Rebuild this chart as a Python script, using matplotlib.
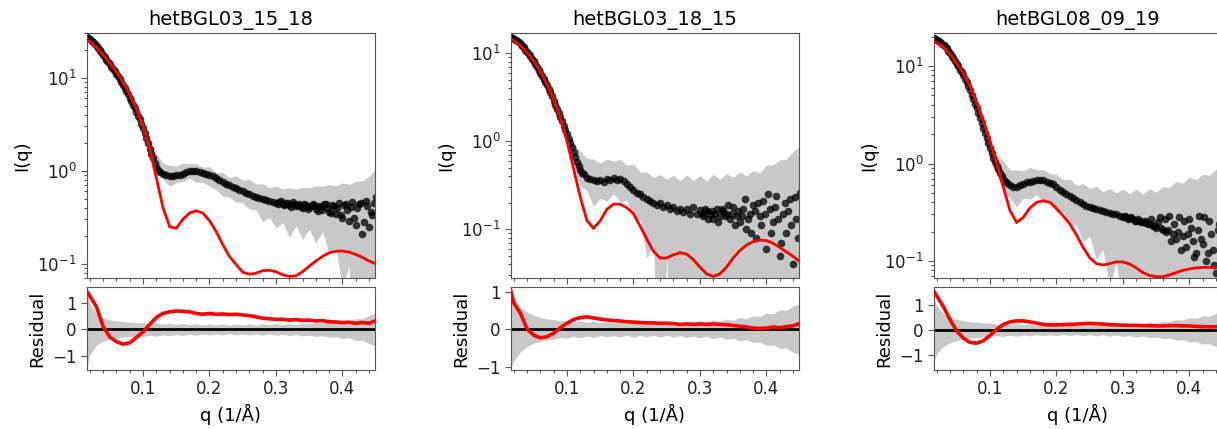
import numpy as np
import matplotlib.pyplot as plt
from matplotlib.ticker import MultipleLocator, AutoMinorLocator, NullFormatter

# Sample names (one column per sample)
titles = ["hetBGL03_15_18", "hetBGL03_18_15", "hetBGL08_09_19"]

# Measured q (1/A): main grid plus the extra points in between
q_exp = [0.015, 0.020, 0.025, 0.030, 0.035, 0.040, 0.045, 0.050, 0.055, 0.060,
         0.065, 0.070, 0.075, 0.080, 0.085, 0.090, 0.095, 0.100, 0.105, 0.110,
         0.115, 0.120, 0.125, 0.130, 0.135, 0.140, 0.145, 0.150, 0.155, 0.160,
         0.165, 0.170, 0.175, 0.180, 0.185, 0.190, 0.195, 0.200, 0.205, 0.210,
         0.215, 0.220, 0.225, 0.230, 0.235, 0.240, 0.245, 0.250, 0.255, 0.260,
         0.265, 0.270, 0.275, 0.280, 0.285, 0.290, 0.295, 0.300, 0.305, 0.310,
         0.315, 0.320, 0.325, 0.330, 0.335, 0.340, 0.345, 0.350, 0.355, 0.360,
         0.365, 0.370, 0.375, 0.380, 0.385, 0.390, 0.395, 0.400, 0.405, 0.410,
         0.415, 0.420, 0.425, 0.430, 0.435, 0.440, 0.445, 0.450]
q_exp_b = [0.0175, 0.0225, 0.0275, 0.0325, 0.0375, 0.0425, 0.0475, 0.0525, 0.0575, 0.0625,
           0.0675, 0.0725, 0.0775, 0.0825, 0.0875, 0.0925, 0.0975, 0.1025, 0.1075, 0.1125,
           0.1175, 0.1225,
           0.3025, 0.3075, 0.3125, 0.3175, 0.3225, 0.3275, 0.3325, 0.3375, 0.3425, 0.3475,
           0.3525, 0.3575, 0.3625, 0.3675, 0.3725, 0.3775, 0.3825, 0.3875, 0.3925, 0.3975,
           0.4025, 0.4075, 0.4125, 0.4175, 0.4225, 0.4275, 0.4325, 0.4375, 0.4425, 0.4475]
# q grid of the fitted curve
q_fit = [0.015, 0.02, 0.03, 0.04, 0.05, 0.06, 0.07, 0.08, 0.09, 0.10,
         0.11, 0.12, 0.13, 0.14, 0.15, 0.16, 0.17, 0.18, 0.19, 0.20,
         0.21, 0.22, 0.23, 0.24, 0.25, 0.26, 0.27, 0.28, 0.29, 0.30,
         0.31, 0.32, 0.33, 0.34, 0.35, 0.36, 0.37, 0.38, 0.39, 0.40,
         0.41, 0.42, 0.43, 0.44, 0.45]

# Measured intensities
iexp_1 = [27.5, 25.8, 23.9, 21.9, 19.7, 17.5, 15.6, 13.9, 12.4, 11.0,
          9.7, 8.35, 7.15, 6.1, 5.13, 4.3, 3.55, 2.85, 2.25, 1.72,
          1.35, 1.10, 0.97, 0.92, 0.89, 0.88, 0.87, 0.89, 0.90, 0.93,
          0.96, 0.99, 1.00, 0.99, 0.97, 0.95, 0.91, 0.89, 0.87, 0.83,
          0.80, 0.76, 0.72, 0.70, 0.67, 0.65, 0.62, 0.60, 0.58, 0.56,
          0.54, 0.52, 0.51, 0.49, 0.48, 0.47, 0.46, 0.45, 0.46, 0.44,
          0.45, 0.43, 0.46, 0.42, 0.44, 0.40, 0.43, 0.41, 0.44, 0.39,
          0.42, 0.38, 0.44, 0.36, 0.43, 0.34, 0.45, 0.31, 0.44, 0.29,
          0.46, 0.26, 0.44, 0.21, 0.47, 0.25, 0.33, 0.52]
iexp_1b = [26.6, 24.8, 22.9, 20.8, 18.6, 16.5, 14.7, 13.1, 11.7, 10.3,
           9.0, 7.7, 6.6, 5.6, 4.7, 3.9, 3.2, 2.55, 1.97, 1.52,
           1.20, 1.02,
           0.44, 0.47, 0.43, 0.45, 0.41, 0.44, 0.43, 0.41, 0.44, 0.39,
           0.42, 0.43, 0.37, 0.41, 0.44, 0.40, 0.35, 0.42, 0.40, 0.33,
           0.43, 0.38, 0.41, 0.31, 0.40, 0.45, 0.28, 0.42, 0.36, 0.45]
iexp_2 = [15.5, 14.6, 13.8, 12.7, 11.7, 10.4, 9.2, 8.1, 7.0, 6.0,
          5.1, 4.3, 3.6, 2.9, 2.35, 1.9, 1.5, 1.2, 0.95, 0.75,
          0.58, 0.47, 0.42, 0.38, 0.37, 0.36, 0.35, 0.36, 0.34, 0.37,
          0.36, 0.38, 0.36, 0.37, 0.35, 0.33, 0.30, 0.28, 0.26, 0.25,
          0.23, 0.22, 0.21, 0.20, 0.19, 0.20, 0.18, 0.19, 0.17, 0.18,
          0.16, 0.17, 0.155, 0.17, 0.15, 0.18, 0.15, 0.165, 0.14, 0.16,
          0.15, 0.13, 0.17, 0.14, 0.16, 0.15, 0.13, 0.18, 0.14, 0.12,
          0.17, 0.10, 0.15, 0.19, 0.08, 0.14, 0.21, 0.06, 0.17, 0.12,
          0.24, 0.05, 0.15, 0.09, 0.22, 0.04, 0.13, 0.26]
iexp_2b = [15.0, 14.2, 13.3, 12.2, 11.0, 9.8, 8.6, 7.5, 6.5, 5.5,
           4.7, 3.95, 3.25, 2.6, 2.1, 1.7, 1.35, 1.07, 0.85, 0.66,
           0.52, 0.44,
           0.15, 0.17, 0.13, 0.16, 0.15, 0.12, 0.17, 0.14, 0.19, 0.15,
           0.11, 0.16, 0.14, 0.22, 0.13, 0.09, 0.16, 0.20, 0.11, 0.15,
           0.25, 0.09, 0.18, 0.13, 0.07, 0.20, 0.16, 0.11, 0.23, 0.08]
iexp_3 = [19.3, 18.5, 17.5, 16.5, 15.2, 13.6, 12.1, 10.6, 9.2, 8.0,
          6.8, 5.7, 4.6, 3.7, 2.95, 2.33, 1.83, 1.43, 1.15, 0.95,
          0.80, 0.70, 0.63, 0.60, 0.58, 0.58, 0.60, 0.62, 0.64, 0.65,
          0.66, 0.67, 0.68, 0.67, 0.65, 0.63, 0.61, 0.57, 0.54, 0.51,
          0.49, 0.46, 0.44, 0.42, 0.40, 0.38, 0.37, 0.36, 0.35, 0.345,
          0.33, 0.325, 0.32, 0.31, 0.30, 0.30, 0.29, 0.285, 0.28, 0.275,
          0.27, 0.26, 0.26, 0.25, 0.245, 0.24, 0.23, 0.22, 0.28, 0.21,
          0.20, 0.29, 0.19, 0.17, 0.28, 0.18, 0.14, 0.27, 0.16, 0.12,
          0.29, 0.15, 0.10, 0.26, 0.13, 0.075, 0.24, 0.19]
iexp_3b = [18.9, 18.0, 17.0, 15.9, 14.4, 12.8, 11.3, 9.9, 8.6, 7.4,
           6.2, 5.1, 4.1, 3.3, 2.63, 2.07, 1.62, 1.28, 1.04, 0.87,
           0.75, 0.66,
           0.29, 0.27, 0.28, 0.26, 0.27, 0.25, 0.26, 0.24, 0.27, 0.23,
           0.25, 0.22, 0.27, 0.21, 0.16, 0.24, 0.20, 0.13, 0.26, 0.19,
           0.22, 0.11, 0.21, 0.17, 0.28, 0.12, 0.19, 0.09, 0.21, 0.15]

# Fitted model intensities
ifit_1 = [25.5, 24.5, 21.0, 17.5, 14.2, 11.5, 8.9, 6.6, 4.6, 3.0,
          1.75, 0.84, 0.40, 0.25, 0.24, 0.30, 0.35, 0.37, 0.35, 0.29,
          0.222, 0.16, 0.12, 0.098, 0.081, 0.077, 0.079, 0.084, 0.085, 0.082,
          0.076, 0.073, 0.074, 0.082, 0.094, 0.107, 0.12, 0.131, 0.136, 0.137,
          0.133, 0.126, 0.117, 0.107, 0.100]
ifit_2 = [14.5, 13.9, 12.2, 10.1, 8.1, 6.2, 4.4, 3.0, 1.85, 1.0,
          0.48, 0.23, 0.125, 0.102, 0.125, 0.168, 0.193, 0.192, 0.175, 0.150,
          0.108, 0.077, 0.056, 0.047, 0.047, 0.051, 0.054, 0.052, 0.045, 0.037,
          0.031, 0.029, 0.031, 0.037, 0.047, 0.057, 0.066, 0.072, 0.075, 0.074,
          0.069, 0.062, 0.055, 0.049, 0.043]
ifit_3 = [17.8, 17.2, 15.6, 13.2, 10.6, 8.4, 6.2, 4.2, 2.75, 1.65,
          1.0, 0.57, 0.33, 0.248, 0.28, 0.35, 0.40, 0.415, 0.40, 0.345,
          0.29, 0.24, 0.185, 0.138, 0.108, 0.094, 0.091, 0.094, 0.098, 0.098,
          0.093, 0.085, 0.076, 0.071, 0.069, 0.069, 0.072, 0.076, 0.080, 0.083,
          0.085, 0.086, 0.086, 0.086, 0.086]

# Residuals (I_exp - I_fit)
res_1 = [1.45, 1.25, 0.85, 0.10, -0.28, -0.46, -0.55, -0.50, -0.30, -0.09,
         0.19, 0.45, 0.60, 0.66, 0.69, 0.68, 0.66, 0.60, 0.57, 0.60,
         0.57, 0.58, 0.56, 0.57, 0.54, 0.52, 0.47, 0.42, 0.40, 0.38,
         0.38, 0.35, 0.37, 0.34, 0.35, 0.32, 0.33, 0.29, 0.28, 0.26,
         0.27, 0.23, 0.26, 0.23, 0.33]
res_2 = [1.05, 0.70, 0.42, 0.00, -0.16, -0.23, -0.20, -0.11, 0.04, 0.16,
         0.26, 0.31, 0.33, 0.30, 0.27, 0.25, 0.23, 0.22, 0.20, 0.19,
         0.18, 0.17, 0.17, 0.16, 0.16, 0.15, 0.13, 0.14, 0.13, 0.14,
         0.13, 0.14, 0.13, 0.12, 0.10, 0.08, 0.06, 0.03, 0.02, 0.03,
         0.06, 0.04, 0.07, 0.09, 0.15]
res_3 = [1.55, 1.35, 0.92, 0.40, -0.05, -0.33, -0.50, -0.53, -0.43, -0.22,
         0.02, 0.22, 0.32, 0.36, 0.36, 0.32, 0.27, 0.22, 0.20, 0.20,
         0.21, 0.22, 0.23, 0.25, 0.26, 0.25, 0.23, 0.21, 0.20, 0.19,
         0.18, 0.18, 0.17, 0.17, 0.16, 0.16, 0.17, 0.17, 0.16, 0.16,
         0.14, 0.13, 0.12, 0.13, 0.15]

# Measurement errors (sigma)
sig_1 = [1.50, 0.95, 0.58, 0.44, 0.36, 0.33, 0.29, 0.28, 0.25, 0.26,
         0.22, 0.25, 0.20, 0.23, 0.19, 0.22, 0.18, 0.22, 0.17, 0.21,
         0.17, 0.21, 0.16, 0.21, 0.17, 0.21, 0.17, 0.22, 0.17, 0.22,
         0.18, 0.23, 0.19, 0.24, 0.21, 0.26, 0.23, 0.29, 0.27, 0.34,
         0.31, 0.41, 0.40, 0.53, 0.62]
sig_2 = [1.05, 0.85, 0.60, 0.46, 0.37, 0.32, 0.27, 0.26, 0.22, 0.24,
         0.19, 0.23, 0.18, 0.22, 0.17, 0.21, 0.17, 0.21, 0.16, 0.21,
         0.16, 0.20, 0.16, 0.21, 0.16, 0.21, 0.17, 0.22, 0.18, 0.23,
         0.19, 0.25, 0.21, 0.27, 0.24, 0.31, 0.28, 0.36, 0.34, 0.43,
         0.41, 0.51, 0.50, 0.62, 0.68]
sig_3 = [1.30, 0.95, 0.66, 0.52, 0.42, 0.37, 0.32, 0.31, 0.27, 0.28,
         0.23, 0.26, 0.21, 0.25, 0.20, 0.24, 0.19, 0.23, 0.19, 0.23,
         0.18, 0.23, 0.18, 0.23, 0.19, 0.24, 0.19, 0.25, 0.20, 0.26,
         0.22, 0.28, 0.24, 0.31, 0.28, 0.35, 0.33, 0.41, 0.39, 0.48,
         0.46, 0.56, 0.55, 0.66, 0.72]

ilims = [(0.0697, 30.1), (0.0276, 17.0), (0.0665, 21.8)]
rlims = [(-1.52, 1.58), (-1.09, 1.12), (-1.6, 1.7)]

panels = [(iexp_1, iexp_1b, ifit_1, res_1, sig_1),
          (iexp_2, iexp_2b, ifit_2, res_2, sig_2),
          (iexp_3, iexp_3b, ifit_3, res_3, sig_3)]

W, H = 1217.0, 429.0
lefts = [87, 511, 934]
spine_col = "#555555"
band_col = "#c8c8c8"

fig = plt.figure(figsize=(W / 100, H / 100), dpi=100)

for k, (iexp, iexp_b, ifit, res, sig) in enumerate(panels):
    x0 = lefts[k] / W
    ax = fig.add_axes([x0, 0.3513, 288 / W, 0.5718])
    axr = fig.add_axes([x0, 0.1375, 288 / W, 0.1928])

    ifit = np.array(ifit)
    res = np.array(res)
    sig = np.array(sig)
    centre = ifit + res

    # intensity panel
    ax.fill_between(q_fit, np.clip(centre - sig, 1e-3, None), centre + sig,
                    color=band_col, lw=0, zorder=1)
    for qq, ii in ((q_exp, iexp), (q_exp_b, iexp_b)):
        ax.plot(qq, ii, "o", color="k", alpha=0.75, ms=5.5, mec="none", zorder=2)
    ax.plot(q_fit, ifit, color="red", lw=2, zorder=3)
    ax.set_yscale("log")
    ax.set_ylim(*ilims[k])
    ax.yaxis.set_minor_formatter(NullFormatter())
    ax.set_title(titles[k], fontsize=14)
    ax.set_ylabel("I(q)", fontsize=13)

    # residual panel
    axr.fill_between(q_fit, -sig, sig, color=band_col, lw=0, zorder=1)
    axr.axhline(0, color="k", lw=2, zorder=2)
    axr.plot(q_fit, res, color="red", lw=2.6, zorder=3)
    axr.set_ylim(*rlims[k])
    axr.set_yticks([-1, 0, 1])
    axr.set_ylabel("Residual", fontsize=13)
    axr.set_xlabel("q (1/Å)", fontsize=13)

    for a in (ax, axr):
        a.set_xlim(0.0157, 0.449)
        a.xaxis.set_major_locator(MultipleLocator(0.1))
        a.xaxis.set_minor_locator(AutoMinorLocator(5))
        a.tick_params(which="both", direction="out", color=spine_col,
                      width=0.8, labelsize=12, labelcolor="#222222")
        a.tick_params(which="major", length=4)
        a.tick_params(which="minor", length=2.5)
        for s in a.spines.values():
            s.set_color(spine_col)
            s.set_linewidth(0.8)
    ax.tick_params(labelbottom=False)

fig.savefig("out.png", dpi=100)
